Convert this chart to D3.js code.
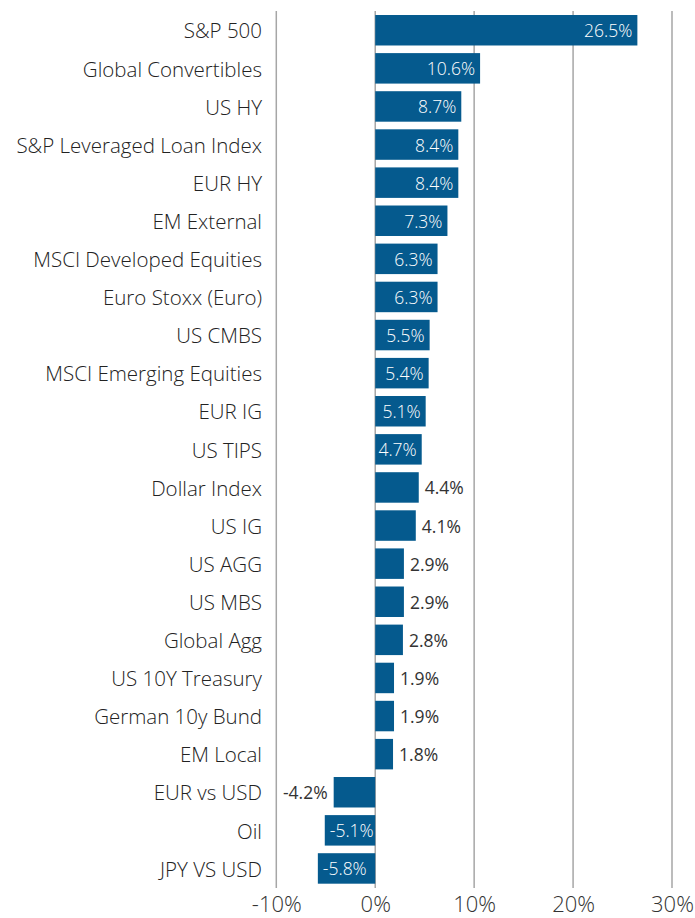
<!DOCTYPE html>
<html>
<head>
<meta charset="utf-8">
<script src="https://cdn.jsdelivr.net/npm/d3@7"></script>
<style>
  body { margin: 0; background: #fff; }
  text { font-family: "Open Sans", Lato, sans-serif; font-weight: 300; }
</style>
</head>
<body>
<div id="chart"></div>
<script>
// categories and returns (%)
const categories = ['S&P 500', 'Global Convertibles', 'US HY', 'S&P Leveraged Loan Index', 'EUR HY',
  'EM External', 'MSCI Developed Equities', 'Euro Stoxx (Euro)', 'US CMBS', 'MSCI Emerging Equities',
  'EUR IG', 'US TIPS', 'Dollar Index', 'US IG', 'US AGG', 'US MBS', 'Global Agg', 'US 10Y Treasury',
  'German 10y Bund', 'EM Local', 'EUR vs USD', 'Oil', 'JPY VS USD'];
const values = [26.5, 10.6, 8.7, 8.4, 8.4, 7.3, 6.3, 6.3, 5.5, 5.4, 5.1, 4.7, 4.4, 4.1, 2.9, 2.9, 2.8,
  1.9, 1.9, 1.8, -4.2, -5.1, -5.8];
const ticks = [-10, 0, 10, 20, 30];

const data = categories.map((c, i) => ({name: c, v: values[i]}));

const width = 695, height = 918;
const barColor = '#055a8e';
const font = '"Open Sans", Lato, sans-serif';

const svg = d3.select('#chart')
              .append('svg')
              .attr('width', width)
              .attr('height', height);

let scaleX = d3.scaleLinear().domain([-10, 30]).range([276.3, 672]);
let scaleY = d3.scaleBand().domain(categories).range([11.2, 887.5])
               .paddingInner(0.2).paddingOuter(0.1);

// gridlines
svg.append('g')
   .selectAll('line')
   .data(ticks)
   .enter()
   .append('line')
   .attr('x1', d => scaleX(d))
   .attr('x2', d => scaleX(d))
   .attr('y1', 11)
   .attr('y2', 888)
   .style('stroke', '#a6a6a6')
   .style('stroke-width', '1.5px');

// bottom axis labels
let xAxis = d3.axisBottom(scaleX).tickValues(ticks).tickSize(0).tickPadding(0)
              .tickFormat(d => d + '%');
let xAxisGroup = svg.append('g')
                    .attr('transform', 'translate(0,896)')
                    .call(xAxis);
xAxisGroup.select('.domain').remove();
xAxisGroup.selectAll('text')
          .attr('dy', '0.71em')
          .style('font-size', '22px')
          .style('font-weight', 300)
          .style('fill', '#333')
          .style('font-family', font);

// category labels
let yAxis = d3.axisLeft(scaleY).tickSize(0).tickPadding(0);
let yAxisGroup = svg.append('g')
                    .attr('transform', 'translate(262,0)')
                    .call(yAxis);
yAxisGroup.select('.domain').remove();
yAxisGroup.selectAll('text')
          .attr('dy', '0.4em')
          .style('font-size', '20.5px')
          .style('font-weight', 300)
          .style('fill', '#222')
          .style('font-family', font);

// bars
svg.selectAll('rect.bar')
   .data(data)
   .enter()
   .append('rect')
   .attr('class', 'bar')
   .attr('x', d => scaleX(Math.min(0, d.v)))
   .attr('y', d => scaleY(d.name))
   .attr('width', d => Math.abs(scaleX(d.v) - scaleX(0)))
   .attr('height', scaleY.bandwidth())
   .style('fill', barColor);

// value labels: inside (white) for long bars, outside (dark) for short ones
const inside = d => Math.abs(d.v) >= 4.5;
svg.selectAll('text.val')
   .data(data)
   .enter()
   .append('text')
   .attr('class', 'val')
   .attr('x', d => {
       let pad = inside(d) ? -5 : 6;
       return d.v >= 0 ? scaleX(d.v) + pad : scaleX(d.v) - pad;
   })
   .attr('y', d => scaleY(d.name) + scaleY.bandwidth() / 2)
   .attr('dy', '0.4em')
   .attr('text-anchor', d => (d.v >= 0) === inside(d) ? 'end' : 'start')
   .style('font-size', '17.5px')
   .style('font-weight', d => inside(d) ? 300 : 400)
   .style('fill', d => inside(d) ? '#fff' : '#333')
   .text(d => d.v.toFixed(1) + '%');
</script>
</body>
</html>
